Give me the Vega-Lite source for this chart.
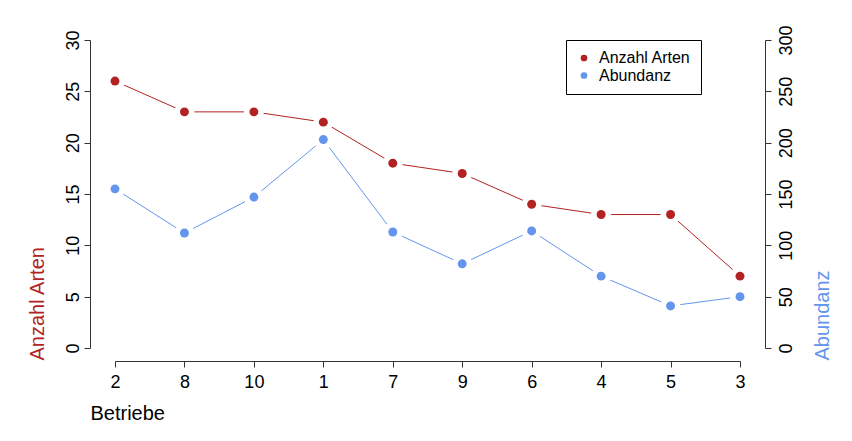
{
  "$schema": "https://vega.github.io/schema/vega-lite/v6.json",
  "width": 625,
  "height": 308,
  "autosize": {"type": "none"},
  "padding": {"left": 115, "top": 40, "right": 112, "bottom": 93},
  "background": "white",
  "data": {
    "values": [
      {"Betrieb": "2", "Arten": 26, "Abundanz": 155},
      {"Betrieb": "8", "Arten": 23, "Abundanz": 112},
      {"Betrieb": "10", "Arten": 23, "Abundanz": 147},
      {"Betrieb": "1", "Arten": 22, "Abundanz": 203},
      {"Betrieb": "7", "Arten": 18, "Abundanz": 113},
      {"Betrieb": "9", "Arten": 17, "Abundanz": 82},
      {"Betrieb": "6", "Arten": 14, "Abundanz": 114},
      {"Betrieb": "4", "Arten": 13, "Abundanz": 70},
      {"Betrieb": "5", "Arten": 13, "Abundanz": 41},
      {"Betrieb": "3", "Arten": 7, "Abundanz": 50}
    ]
  },
  "encoding": {
    "x": {
      "field": "Betrieb",
      "type": "ordinal",
      "sort": null,
      "scale": {"type": "point", "padding": 0},
      "axis": {
        "orient": "bottom",
        "offset": 13,
        "labelAngle": 0,
        "labelFontSize": 18,
        "labelBaseline": "top",
        "labelPadding": 6,
        "labelFlush": false,
        "tickSize": 6,
        "grid": false,
        "title": "Betriebe",
        "titleFontSize": 20,
        "titleFontWeight": "normal",
        "titleAlign": "left",
        "titleBaseline": "alphabetic",
        "titleX": -25,
        "titleY": 58
      }
    }
  },
  "layer": [
    {
      "encoding": {
        "y": {
          "field": "Arten",
          "type": "quantitative",
          "scale": {"domain": [0, 30], "nice": false, "zero": false},
          "axis": {
            "orient": "left",
            "offset": 25,
            "values": [0, 5, 10, 15, 20, 25, 30],
            "grid": false,
            "tickSize": 6,
            "labelAngle": 270,
            "labelAlign": "center",
            "labelBaseline": "alphabetic",
            "labelFontSize": 18,
            "labelPadding": 6,
            "labelFlush": false,
            "labelOverlap": false,
            "title": "Anzahl Arten",
            "titleColor": "#B22222",
            "titleFontSize": 20,
            "titleFontWeight": "normal",
            "titleAngle": 270,
            "titleAlign": "left",
            "titleBaseline": "alphabetic",
            "titleX": -47,
            "titleY": 320
          }
        }
      },
      "layer": [
        {"mark": {"type": "line", "color": "#B22222", "strokeWidth": 1}},
        {"mark": {"type": "point", "filled": true, "color": "white", "size": 400, "opacity": 1}},
        {
          "mark": {"type": "point", "filled": true, "size": 80, "opacity": 1},
          "encoding": {
            "color": {
              "datum": "Anzahl Arten",
              "scale": {"domain": ["Anzahl Arten", "Abundanz"], "range": ["#B22222", "#6495ED"]},
              "legend": {
                "title": null,
                "orient": "none",
                "legendX": 451,
                "legendY": 0,
                "strokeColor": "black",
                "fillColor": "white",
                "padding": 10,
                "symbolType": "circle",
                "symbolSize": 45,
                "labelFontSize": 16,
                "labelOffset": 7,
                "rowPadding": 1.5
              }
            }
          }
        }
      ]
    },
    {
      "encoding": {
        "y": {
          "field": "Abundanz",
          "type": "quantitative",
          "scale": {"domain": [0, 300], "nice": false, "zero": false},
          "axis": {
            "orient": "right",
            "offset": 25,
            "values": [0, 50, 100, 150, 200, 250, 300],
            "grid": false,
            "tickSize": 6,
            "labelAngle": 270,
            "labelAlign": "center",
            "labelBaseline": "top",
            "labelFontSize": 18,
            "labelPadding": 6,
            "labelFlush": false,
            "labelOverlap": false,
            "title": "Abundanz",
            "titleColor": "#6495ED",
            "titleFontSize": 20,
            "titleFontWeight": "normal",
            "titleAngle": 270,
            "titleAlign": "left",
            "titleBaseline": "alphabetic",
            "titleX": 63,
            "titleY": 320
          }
        }
      },
      "layer": [
        {"mark": {"type": "line", "color": "#6495ED", "strokeWidth": 1}},
        {"mark": {"type": "point", "filled": true, "color": "white", "size": 400, "opacity": 1}},
        {
          "mark": {"type": "point", "filled": true, "size": 80, "opacity": 1},
          "encoding": {"color": {"datum": "Abundanz"}}
        }
      ]
    }
  ],
  "resolve": {"scale": {"y": "independent"}},
  "config": {
    "view": {"stroke": null},
    "font": "Liberation Sans",
    "axis": {
      "labelFont": "Liberation Sans",
      "titleFont": "Liberation Sans",
      "labelColor": "black",
      "domainColor": "#333333",
      "tickColor": "#333333"
    },
    "legend": {"labelFont": "Liberation Sans", "labelColor": "black"}
  }
}
